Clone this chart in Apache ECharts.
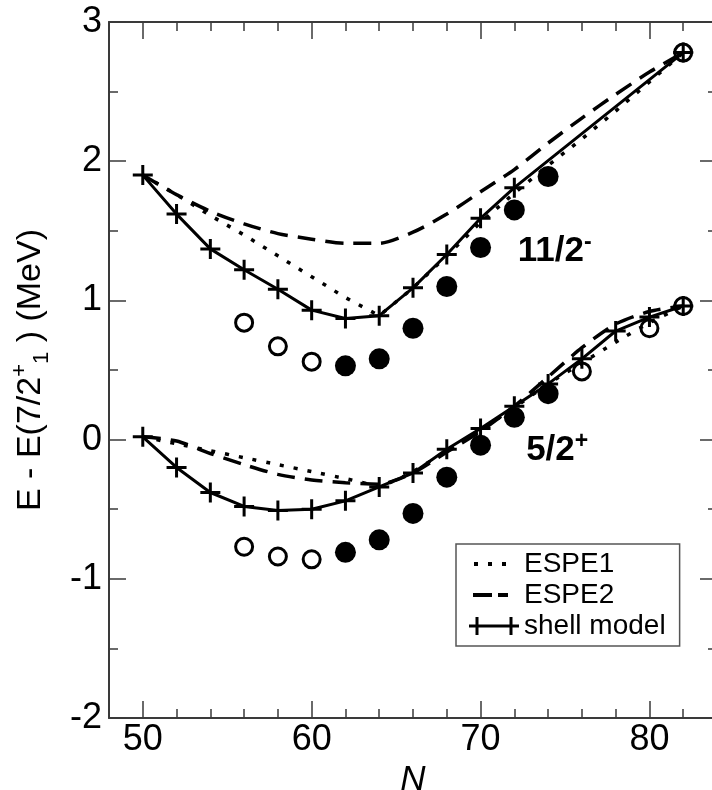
<!DOCTYPE html>
<html>
<head>
<meta charset="utf-8">
<script src="https://cdn.jsdelivr.net/npm/echarts@6/dist/echarts.min.js"></script>
<style>html,body{margin:0;padding:0;background:#fff;}#c{width:712px;height:790px;}</style>
</head>
<body>
<div id="c"></div>
<script>
// ---- data ----
const N_ESPE = [50,52,54,56,58,60,62,64,66,68,70,72,74,76,78,80,82];
const ESPE1_11 = [1.90,1.76,1.61,1.47,1.32,1.17,1.02,0.89,1.09,1.32,1.56,1.77,1.97,2.16,2.36,2.57,2.78];
const ESPE2_11 = [1.90,1.76,1.64,1.55,1.48,1.44,1.41,1.41,1.49,1.62,1.78,1.94,2.13,2.31,2.48,2.64,2.78];
const ESPE1_5  = [0.02,-0.03,-0.08,-0.13,-0.18,-0.23,-0.28,-0.33,-0.23,-0.08,0.07,0.23,0.40,0.55,0.70,0.84,0.96];
const ESPE2_5  = [0.02,-0.01,-0.10,-0.18,-0.25,-0.29,-0.31,-0.32,-0.24,-0.09,0.06,0.24,0.45,0.66,0.83,0.92,0.96];

const N_SHELL_11 = [50,52,54,56,58,60,62,64,66,68,70,72,82];
const SHELL_11   = [1.90,1.62,1.37,1.22,1.08,0.93,0.87,0.89,1.09,1.33,1.59,1.81,2.78];
const N_SHELL_5  = [50,52,54,56,58,60,62,64,66,68,70,72,74,76,78,80,82];
const SHELL_5    = [0.02,-0.20,-0.38,-0.48,-0.51,-0.50,-0.44,-0.34,-0.24,-0.07,0.08,0.24,0.40,0.58,0.78,0.88,0.96];

const N_OPEN_11 = [56,58,60,82];
const OPEN_11   = [0.84,0.67,0.56,2.78];
const N_FILL_11 = [62,64,66,68,70,72,74];
const FILL_11   = [0.53,0.58,0.80,1.10,1.38,1.65,1.89];
const N_OPEN_5  = [56,58,60,76,80,82];
const OPEN_5    = [-0.77,-0.84,-0.86,0.49,0.80,0.96];
const N_FILL_5  = [62,64,66,68,70,72,74];
const FILL_5    = [-0.81,-0.72,-0.53,-0.27,-0.04,0.16,0.33];

const X_MAJOR = [50,60,70,80];
const LABEL_11 = {pos:[72.2,1.35], main:'11/2', sup:'-'};
const LABEL_5  = {pos:[72.7,-0.08], main:'5/2', sup:'+'};

// ---- helpers ----
const zip = (xs, ys) => xs.map((x, i) => [x, ys[i]]);
const FONT = 'Liberation Sans, Arial, Helvetica, sans-serif';
const AX = '#3a3a3a';
const PLUS = 'path://M8.5,0 L11.5,0 L11.5,8.5 L20,8.5 L20,11.5 L11.5,11.5 L11.5,20 L8.5,20 L8.5,11.5 L0,11.5 L0,8.5 L8.5,8.5 Z';
const ANCH = 'M0,0 L0.01,0 L0.01,0.01 L0,0.01 Z M49.99,19.99 L50,19.99 L50,20 L49.99,20 Z ';
const ICON_E1 = 'path://' + ANCH + 'M5,8 L9,8 L9,12 L5,12 Z M19,8 L23,8 L23,12 L19,12 Z M33,8 L37,8 L37,12 L33,12 Z';
const ICON_E2 = 'path://' + ANCH + 'M4,8 L23,8 L23,12 L4,12 Z M29,8 L39,8 L39,12 L29,12 Z';
const ICON_SM = 'path://' + ANCH + 'M0,8.5 L50,8.5 L50,11.5 L0,11.5 Z M6.5,1 L9.5,1 L9.5,19 L6.5,19 Z M40.5,1 L43.5,1 L43.5,19 L40.5,19 Z';

const DOT = [4, 10];
const DASH = [18, 10];

function espe(name, data, type, smooth) {
  return {
    name, type: 'line', data, symbol: 'none', smooth: smooth, z: 2,
    lineStyle: {color: '#000', width: 3.5, type: type, opacity: 1},
    itemStyle: {color: '#000', borderWidth: 0, opacity: 1},
    silent: true
  };
}
function shell(data) {
  return {
    name: 'shell model', type: 'line', data, symbol: PLUS, symbolSize: 20, z: 4,
    lineStyle: {color: '#000', width: 3, opacity: 1},
    itemStyle: {color: '#000', borderWidth: 0, opacity: 1},
    silent: true
  };
}
function openPts(data) {
  return {
    type: 'scatter', data, symbol: 'circle', symbolSize: 17, z: 3,
    itemStyle: {color: 'rgba(255,255,255,0)', borderColor: '#000', borderWidth: 3, opacity: 1},
    silent: true
  };
}
function fillPts(data) {
  return {
    type: 'scatter', data, symbol: 'circle', symbolSize: 21, z: 3,
    itemStyle: {color: '#000', borderWidth: 0, opacity: 1},
    silent: true
  };
}
function annot(l) {
  return {
    type: 'scatter', data: [l.pos], symbolSize: 0, z: 5, silent: true,
    itemStyle: {opacity: 1},
    label: {
      show: true, position: 'right', distance: 0, opacity: 1,
      formatter: '{a|' + l.main + '}{s|' + l.sup + '}',
      rich: {
        a: {fontSize: 35, fontWeight: 'bold', fontFamily: FONT, color: '#000', lineHeight: 42},
        s: {fontSize: 23, fontWeight: 'bold', fontFamily: FONT, color: '#000', verticalAlign: 'top', lineHeight: 22}
      }
    }
  };
}

const chart = echarts.init(document.getElementById('c'), null, {renderer: 'canvas'});
const xBase = {
  type: 'value', min: 48, max: 84, gridIndex: 0,
  splitLine: {show: false}
};
const option = {
  animation: false,
  backgroundColor: '#fff',
  grid: {left: 109, top: 22, right: -5, bottom: 72, containLabel: false, outerBoundsMode: 'none'},
  xAxis: [
    Object.assign({}, xBase, {
      position: 'bottom', interval: 2,
      axisLine: {show: true, onZero: false, lineStyle: {color: AX, width: 2}},
      axisTick: {show: true, inside: true, length: 9, lineStyle: {color: AX, width: 1.5}},
      axisLabel: {show: true, margin: 4, color: '#000', fontSize: 36, fontFamily: FONT,
        formatter: v => (v % 10 === 0 && v >= 50 && v <= 80) ? String(v) : ''},
      name: 'N', nameLocation: 'middle', nameGap: 31,
      nameTextStyle: {fontSize: 35, fontStyle: 'italic', fontFamily: FONT, color: '#000'}
    }),
    Object.assign({}, xBase, {
      position: 'top', interval: 2,
      axisLine: {show: true, onZero: false, lineStyle: {color: AX, width: 2}},
      axisTick: {show: true, inside: true, length: 9, lineStyle: {color: AX, width: 1.5}},
      axisLabel: {show: false}
    }),
    Object.assign({}, xBase, {
      position: 'bottom',
      axisLine: {show: false, onZero: false},
      axisTick: {show: true, inside: true, length: 17, customValues: X_MAJOR, lineStyle: {color: AX, width: 1.5}},
      axisLabel: {show: false}
    }),
    Object.assign({}, xBase, {
      position: 'top',
      axisLine: {show: false, onZero: false},
      axisTick: {show: true, inside: true, length: 17, customValues: X_MAJOR, lineStyle: {color: AX, width: 1.5}},
      axisLabel: {show: false}
    })
  ],
  yAxis: [
    {
      type: 'value', min: -2, max: 3, interval: 1, position: 'left',
      splitLine: {show: false},
      axisLine: {show: true, onZero: false, lineStyle: {color: AX, width: 2}},
      axisTick: {show: true, inside: true, length: 17, lineStyle: {color: AX, width: 1.5}},
      minorTick: {show: true, splitNumber: 2, length: 9, lineStyle: {color: AX, width: 1.5}},
      minorSplitLine: {show: false},
      axisLabel: {show: true, margin: 7, color: '#000', fontSize: 36, fontFamily: FONT},
      name: '{m|E - E(7/2}{sup|+}{sub|1}{m| ) (MeV)}',
      nameLocation: 'middle', nameGap: 56,
      nameTextStyle: {
        fontFamily: FONT, color: '#000',
        rich: {
          m: {fontSize: 34, fontFamily: FONT, color: '#000', lineHeight: 44},
          sup: {fontSize: 22, fontFamily: FONT, color: '#000', verticalAlign: 'top', lineHeight: 22},
          sub: {fontSize: 22, fontFamily: FONT, color: '#000', verticalAlign: 'bottom', lineHeight: 22}
        }
      }
    },
    {
      type: 'value', min: -2, max: 3, interval: 1, position: 'right',
      splitLine: {show: false},
      axisLine: {show: true, onZero: false, lineStyle: {color: AX, width: 2}},
      axisTick: {show: true, inside: true, length: 17, lineStyle: {color: AX, width: 1.5}},
      minorTick: {show: true, splitNumber: 2, length: 9, lineStyle: {color: AX, width: 1.5}},
      axisLabel: {show: false}
    }
  ],
  legend: {
    left: 456, top: 544, orient: 'vertical',
    itemWidth: 50, itemHeight: 20, itemGap: 3,
    padding: [6, 14, 6, 13],
    borderColor: '#555', borderWidth: 1.5, borderRadius: 0,
    backgroundColor: '#fff',
    selectedMode: false,
    itemStyle: {borderWidth: 0},
    textStyle: {fontSize: 28, fontFamily: FONT, color: '#000'},
    data: [
      {name: 'ESPE1', icon: ICON_E1},
      {name: 'ESPE2', icon: ICON_E2},
      {name: 'shell model', icon: ICON_SM}
    ]
  },
  series: [
    espe('ESPE1', zip(N_ESPE, ESPE1_11), DOT, false),
    espe('ESPE2', zip(N_ESPE, ESPE2_11), DASH, 0.25),
    espe('ESPE1', zip(N_ESPE, ESPE1_5), DOT, 0.2),
    espe('ESPE2', zip(N_ESPE, ESPE2_5), DASH, 0.25),
    openPts(zip(N_OPEN_11, OPEN_11)),
    fillPts(zip(N_FILL_11, FILL_11)),
    openPts(zip(N_OPEN_5, OPEN_5)),
    fillPts(zip(N_FILL_5, FILL_5)),
    shell(zip(N_SHELL_11, SHELL_11)),
    shell(zip(N_SHELL_5, SHELL_5)),
    annot(LABEL_11),
    annot(LABEL_5)
  ]
};
chart.setOption(option);
</script>
</body>
</html>
